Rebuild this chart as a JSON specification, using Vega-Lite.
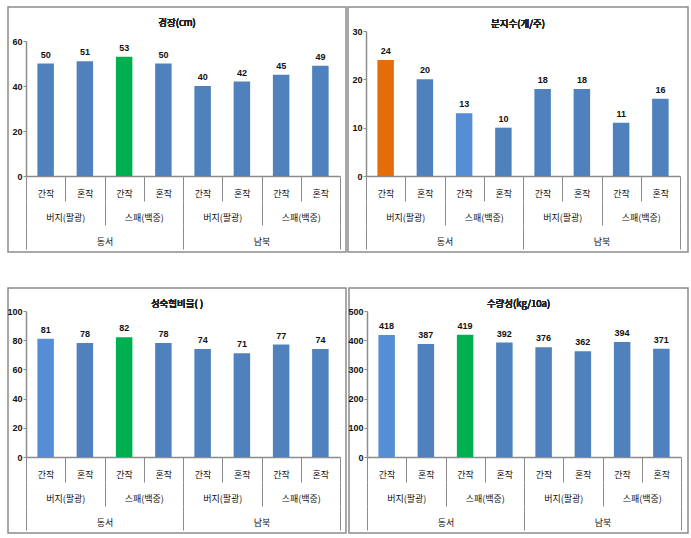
{
  "$schema": "https://vega.github.io/schema/vega-lite/v6.json",
  "padding": {"left": 6, "top": 6, "right": 0, "bottom": 0},
  "spacing": 34,
  "config": {
    "view": {"stroke": "#8c8c8c", "strokeWidth": 1.5},
    "axis": {"domainColor": "#8c8c8c", "tickColor": "#8c8c8c", "labelColor": "#111111", "grid": false, "title": null, "labelOverlap": false, "minExtent": 0},
    "concat": {"spacing": 0}
  },
  "datasets": {
    "main": [
      {"panel": "P1", "t": "경장(cm)", "k": "동서|버지(팔광)|간작", "v": "동서|버지(팔광)", "d": "동서", "value": 50, "hl": "none"},
      {"panel": "P1", "t": "경장(cm)", "k": "동서|버지(팔광)|혼작", "v": "동서|버지(팔광)", "d": "동서", "value": 51, "hl": "none"},
      {"panel": "P1", "t": "경장(cm)", "k": "동서|스패(백중)|간작", "v": "동서|스패(백중)", "d": "동서", "value": 53, "hl": "a"},
      {"panel": "P1", "t": "경장(cm)", "k": "동서|스패(백중)|혼작", "v": "동서|스패(백중)", "d": "동서", "value": 50, "hl": "none"},
      {"panel": "P1", "t": "경장(cm)", "k": "남북|버지(팔광)|간작", "v": "남북|버지(팔광)", "d": "남북", "value": 40, "hl": "none"},
      {"panel": "P1", "t": "경장(cm)", "k": "남북|버지(팔광)|혼작", "v": "남북|버지(팔광)", "d": "남북", "value": 42, "hl": "none"},
      {"panel": "P1", "t": "경장(cm)", "k": "남북|스패(백중)|간작", "v": "남북|스패(백중)", "d": "남북", "value": 45, "hl": "none"},
      {"panel": "P1", "t": "경장(cm)", "k": "남북|스패(백중)|혼작", "v": "남북|스패(백중)", "d": "남북", "value": 49, "hl": "none"},
      {"panel": "P2", "t": "분지수(개/주)", "k": "동서|버지(팔광)|간작", "v": "동서|버지(팔광)", "d": "동서", "value": 24, "hl": "b"},
      {"panel": "P2", "t": "분지수(개/주)", "k": "동서|버지(팔광)|혼작", "v": "동서|버지(팔광)", "d": "동서", "value": 20, "hl": "none"},
      {"panel": "P2", "t": "분지수(개/주)", "k": "동서|스패(백중)|간작", "v": "동서|스패(백중)", "d": "동서", "value": 13, "hl": "c"},
      {"panel": "P2", "t": "분지수(개/주)", "k": "동서|스패(백중)|혼작", "v": "동서|스패(백중)", "d": "동서", "value": 10, "hl": "none"},
      {"panel": "P2", "t": "분지수(개/주)", "k": "남북|버지(팔광)|간작", "v": "남북|버지(팔광)", "d": "남북", "value": 18, "hl": "none"},
      {"panel": "P2", "t": "분지수(개/주)", "k": "남북|버지(팔광)|혼작", "v": "남북|버지(팔광)", "d": "남북", "value": 18, "hl": "none"},
      {"panel": "P2", "t": "분지수(개/주)", "k": "남북|스패(백중)|간작", "v": "남북|스패(백중)", "d": "남북", "value": 11, "hl": "none"},
      {"panel": "P2", "t": "분지수(개/주)", "k": "남북|스패(백중)|혼작", "v": "남북|스패(백중)", "d": "남북", "value": 16, "hl": "none"},
      {"panel": "P3", "t": "성숙협비율(  )", "k": "동서|버지(팔광)|간작", "v": "동서|버지(팔광)", "d": "동서", "value": 81, "hl": "c"},
      {"panel": "P3", "t": "성숙협비율(  )", "k": "동서|버지(팔광)|혼작", "v": "동서|버지(팔광)", "d": "동서", "value": 78, "hl": "none"},
      {"panel": "P3", "t": "성숙협비율(  )", "k": "동서|스패(백중)|간작", "v": "동서|스패(백중)", "d": "동서", "value": 82, "hl": "a"},
      {"panel": "P3", "t": "성숙협비율(  )", "k": "동서|스패(백중)|혼작", "v": "동서|스패(백중)", "d": "동서", "value": 78, "hl": "none"},
      {"panel": "P3", "t": "성숙협비율(  )", "k": "남북|버지(팔광)|간작", "v": "남북|버지(팔광)", "d": "남북", "value": 74, "hl": "none"},
      {"panel": "P3", "t": "성숙협비율(  )", "k": "남북|버지(팔광)|혼작", "v": "남북|버지(팔광)", "d": "남북", "value": 71, "hl": "none"},
      {"panel": "P3", "t": "성숙협비율(  )", "k": "남북|스패(백중)|간작", "v": "남북|스패(백중)", "d": "남북", "value": 77, "hl": "none"},
      {"panel": "P3", "t": "성숙협비율(  )", "k": "남북|스패(백중)|혼작", "v": "남북|스패(백중)", "d": "남북", "value": 74, "hl": "none"},
      {"panel": "P4", "t": "수량성(kg/10a)", "k": "동서|버지(팔광)|간작", "v": "동서|버지(팔광)", "d": "동서", "value": 418, "hl": "c"},
      {"panel": "P4", "t": "수량성(kg/10a)", "k": "동서|버지(팔광)|혼작", "v": "동서|버지(팔광)", "d": "동서", "value": 387, "hl": "none"},
      {"panel": "P4", "t": "수량성(kg/10a)", "k": "동서|스패(백중)|간작", "v": "동서|스패(백중)", "d": "동서", "value": 419, "hl": "a"},
      {"panel": "P4", "t": "수량성(kg/10a)", "k": "동서|스패(백중)|혼작", "v": "동서|스패(백중)", "d": "동서", "value": 392, "hl": "none"},
      {"panel": "P4", "t": "수량성(kg/10a)", "k": "남북|버지(팔광)|간작", "v": "남북|버지(팔광)", "d": "남북", "value": 376, "hl": "none"},
      {"panel": "P4", "t": "수량성(kg/10a)", "k": "남북|버지(팔광)|혼작", "v": "남북|버지(팔광)", "d": "남북", "value": 362, "hl": "none"},
      {"panel": "P4", "t": "수량성(kg/10a)", "k": "남북|스패(백중)|간작", "v": "남북|스패(백중)", "d": "남북", "value": 394, "hl": "none"},
      {"panel": "P4", "t": "수량성(kg/10a)", "k": "남북|스패(백중)|혼작", "v": "남북|스패(백중)", "d": "남북", "value": 371, "hl": "none"}
    ]
  },
  "data": {"name": "main"},
  "vconcat": [
    {"spacing": 0, "hconcat": [
      {
        "width": 338, "height": 245,
        "transform": [{"filter": "datum.panel == 'P1'"}],
        "layer": [
          {"mark": {"type": "bar", "width": {"band": 0.42}},
           "encoding": {
             "x": {"field": "k", "type": "nominal", "sort": null, "scale": {"range": [18, 332], "paddingInner": 0, "paddingOuter": 0},
                   "axis": {"orient": "bottom", "offset": -76, "tickBand": "extent", "tickSize": 25, "domainWidth": 1.5, "labelAngle": 0, "labelBaseline": "middle", "labelPadding": -8, "labelFont": "Noto Sans CJK KR", "labelFontSize": 9, "labelExpr": "split(datum.label, '|')[2]"}},
             "y": {"field": "value", "type": "quantitative", "stack": null, "scale": {"domain": [0, 60], "range": [169, 34], "nice": false},
                   "axis": {"orient": "left", "offset": -18, "values": [0, 20, 40, 60], "tickSize": 3, "labelPadding": 1, "domainWidth": 1.5, "labelFont": "Liberation Sans", "labelFontSize": 9, "labelFontWeight": "bold"}},
             "color": {"field": "hl", "type": "nominal", "scale": {"domain": ["none", "a", "b", "c"], "range": ["#4F81BD", "#00B050", "#E46C0A", "#558ED5"]}, "legend": null}
           }},
          {"mark": {"type": "text", "baseline": "alphabetic", "dy": -6, "font": "Liberation Sans", "fontSize": 9, "fontWeight": "bold", "color": "#111111"},
           "encoding": {
             "x": {"field": "k", "type": "nominal", "sort": null, "scale": {"range": [18, 332], "paddingInner": 0, "paddingOuter": 0}, "axis": null},
             "y": {"field": "value", "type": "quantitative"},
             "text": {"field": "value", "type": "quantitative"}
           }},
          {"mark": {"type": "bar", "opacity": 0},
           "encoding": {
             "x": {"field": "v", "type": "nominal", "sort": null, "scale": {"range": [18, 332], "paddingInner": 0, "paddingOuter": 0},
                   "axis": {"orient": "bottom", "offset": -51, "tickBand": "extent", "tickSize": 24, "domain": false, "labelAngle": 0, "labelBaseline": "middle", "labelPadding": -8, "labelFont": "Noto Sans CJK KR", "labelFontSize": 9, "labelExpr": "split(datum.label, '|')[1]"}},
             "y": {"field": "value", "type": "quantitative", "stack": null}
           }},
          {"mark": {"type": "bar", "opacity": 0},
           "encoding": {
             "x": {"field": "d", "type": "nominal", "sort": null, "scale": {"range": [18, 332], "paddingInner": 0, "paddingOuter": 0},
                   "axis": {"orient": "bottom", "offset": -27, "tickBand": "extent", "tickSize": 24, "domain": false, "labelAngle": 0, "labelBaseline": "middle", "labelPadding": -8, "labelFont": "Noto Sans CJK KR", "labelFontSize": 9}},
             "y": {"field": "value", "type": "quantitative", "stack": null}
           }},
          {"mark": {"type": "text", "baseline": "middle", "font": "Noto Sans CJK KR", "fontSize": 9.5, "color": "#222222"},
           "encoding": {
             "x": {"field": "t", "type": "nominal", "scale": {"range": [0, 338], "paddingInner": 0, "paddingOuter": 0}, "axis": null},
             "y": {"datum": 68, "type": "quantitative"},
             "text": {"field": "t"}
           }}
        ],
        "resolve": {"scale": {"x": "independent"}, "axis": {"x": "independent"}}
      },
      {
        "width": 340, "height": 245,
        "transform": [{"filter": "datum.panel == 'P2'"}],
        "layer": [
          {"mark": {"type": "bar", "width": {"band": 0.42}},
           "encoding": {
             "x": {"field": "k", "type": "nominal", "sort": null, "scale": {"range": [18, 332], "paddingInner": 0, "paddingOuter": 0},
                   "axis": {"orient": "bottom", "offset": -76, "tickBand": "extent", "tickSize": 25, "domainWidth": 1.5, "labelAngle": 0, "labelBaseline": "middle", "labelPadding": -8, "labelFont": "Noto Sans CJK KR", "labelFontSize": 9, "labelExpr": "split(datum.label, '|')[2]"}},
             "y": {"field": "value", "type": "quantitative", "stack": null, "scale": {"domain": [0, 30], "range": [169, 24], "nice": false},
                   "axis": {"orient": "left", "offset": -18, "values": [0, 10, 20, 30], "tickSize": 3, "labelPadding": 1, "domainWidth": 1.5, "labelFont": "Liberation Sans", "labelFontSize": 9, "labelFontWeight": "bold"}},
             "color": {"field": "hl", "type": "nominal", "scale": {"domain": ["none", "a", "b", "c"], "range": ["#4F81BD", "#00B050", "#E46C0A", "#558ED5"]}, "legend": null}
           }},
          {"mark": {"type": "text", "baseline": "alphabetic", "dy": -6, "font": "Liberation Sans", "fontSize": 9, "fontWeight": "bold", "color": "#111111"},
           "encoding": {
             "x": {"field": "k", "type": "nominal", "sort": null, "scale": {"range": [18, 332], "paddingInner": 0, "paddingOuter": 0}, "axis": null},
             "y": {"field": "value", "type": "quantitative"},
             "text": {"field": "value", "type": "quantitative"}
           }},
          {"mark": {"type": "bar", "opacity": 0},
           "encoding": {
             "x": {"field": "v", "type": "nominal", "sort": null, "scale": {"range": [18, 332], "paddingInner": 0, "paddingOuter": 0},
                   "axis": {"orient": "bottom", "offset": -51, "tickBand": "extent", "tickSize": 24, "domain": false, "labelAngle": 0, "labelBaseline": "middle", "labelPadding": -8, "labelFont": "Noto Sans CJK KR", "labelFontSize": 9, "labelExpr": "split(datum.label, '|')[1]"}},
             "y": {"field": "value", "type": "quantitative", "stack": null}
           }},
          {"mark": {"type": "bar", "opacity": 0},
           "encoding": {
             "x": {"field": "d", "type": "nominal", "sort": null, "scale": {"range": [18, 332], "paddingInner": 0, "paddingOuter": 0},
                   "axis": {"orient": "bottom", "offset": -27, "tickBand": "extent", "tickSize": 24, "domain": false, "labelAngle": 0, "labelBaseline": "middle", "labelPadding": -8, "labelFont": "Noto Sans CJK KR", "labelFontSize": 9}},
             "y": {"field": "value", "type": "quantitative", "stack": null}
           }},
          {"mark": {"type": "text", "baseline": "middle", "font": "Noto Sans CJK KR", "fontSize": 9.5, "color": "#222222"},
           "encoding": {
             "x": {"field": "t", "type": "nominal", "scale": {"range": [0, 340], "paddingInner": 0, "paddingOuter": 0}, "axis": null},
             "y": {"datum": 31.4, "type": "quantitative"},
             "text": {"field": "t"}
           }}
        ],
        "resolve": {"scale": {"x": "independent"}, "axis": {"x": "independent"}}
      }
    ]},
    {"spacing": 0, "hconcat": [
      {
        "width": 338, "height": 245,
        "transform": [{"filter": "datum.panel == 'P3'"}],
        "layer": [
          {"mark": {"type": "bar", "width": {"band": 0.42}},
           "encoding": {
             "x": {"field": "k", "type": "nominal", "sort": null, "scale": {"range": [18, 332], "paddingInner": 0, "paddingOuter": 0},
                   "axis": {"orient": "bottom", "offset": -76, "tickBand": "extent", "tickSize": 25, "domainWidth": 1.5, "labelAngle": 0, "labelBaseline": "middle", "labelPadding": -8, "labelFont": "Noto Sans CJK KR", "labelFontSize": 9, "labelExpr": "split(datum.label, '|')[2]"}},
             "y": {"field": "value", "type": "quantitative", "stack": null, "scale": {"domain": [0, 100], "range": [169, 23], "nice": false},
                   "axis": {"orient": "left", "offset": -18, "values": [0, 20, 40, 60, 80, 100], "tickSize": 3, "labelPadding": 1, "domainWidth": 1.5, "labelFont": "Liberation Sans", "labelFontSize": 9, "labelFontWeight": "bold"}},
             "color": {"field": "hl", "type": "nominal", "scale": {"domain": ["none", "a", "b", "c"], "range": ["#4F81BD", "#00B050", "#E46C0A", "#558ED5"]}, "legend": null}
           }},
          {"mark": {"type": "text", "baseline": "alphabetic", "dy": -6, "font": "Liberation Sans", "fontSize": 9, "fontWeight": "bold", "color": "#111111"},
           "encoding": {
             "x": {"field": "k", "type": "nominal", "sort": null, "scale": {"range": [18, 332], "paddingInner": 0, "paddingOuter": 0}, "axis": null},
             "y": {"field": "value", "type": "quantitative"},
             "text": {"field": "value", "type": "quantitative"}
           }},
          {"mark": {"type": "bar", "opacity": 0},
           "encoding": {
             "x": {"field": "v", "type": "nominal", "sort": null, "scale": {"range": [18, 332], "paddingInner": 0, "paddingOuter": 0},
                   "axis": {"orient": "bottom", "offset": -51, "tickBand": "extent", "tickSize": 24, "domain": false, "labelAngle": 0, "labelBaseline": "middle", "labelPadding": -8, "labelFont": "Noto Sans CJK KR", "labelFontSize": 9, "labelExpr": "split(datum.label, '|')[1]"}},
             "y": {"field": "value", "type": "quantitative", "stack": null}
           }},
          {"mark": {"type": "bar", "opacity": 0},
           "encoding": {
             "x": {"field": "d", "type": "nominal", "sort": null, "scale": {"range": [18, 332], "paddingInner": 0, "paddingOuter": 0},
                   "axis": {"orient": "bottom", "offset": -27, "tickBand": "extent", "tickSize": 24, "domain": false, "labelAngle": 0, "labelBaseline": "middle", "labelPadding": -8, "labelFont": "Noto Sans CJK KR", "labelFontSize": 9}},
             "y": {"field": "value", "type": "quantitative", "stack": null}
           }},
          {"mark": {"type": "text", "baseline": "middle", "font": "Noto Sans CJK KR", "fontSize": 9.5, "color": "#222222"},
           "encoding": {
             "x": {"field": "t", "type": "nominal", "scale": {"range": [0, 338], "paddingInner": 0, "paddingOuter": 0}, "axis": null},
             "y": {"datum": 104.8, "type": "quantitative"},
             "text": {"field": "t"}
           }}
        ],
        "resolve": {"scale": {"x": "independent"}, "axis": {"x": "independent"}}
      },
      {
        "width": 339, "height": 245,
        "transform": [{"filter": "datum.panel == 'P4'"}],
        "layer": [
          {"mark": {"type": "bar", "width": {"band": 0.42}},
           "encoding": {
             "x": {"field": "k", "type": "nominal", "sort": null, "scale": {"range": [18, 332], "paddingInner": 0, "paddingOuter": 0},
                   "axis": {"orient": "bottom", "offset": -76, "tickBand": "extent", "tickSize": 25, "domainWidth": 1.5, "labelAngle": 0, "labelBaseline": "middle", "labelPadding": -8, "labelFont": "Noto Sans CJK KR", "labelFontSize": 9, "labelExpr": "split(datum.label, '|')[2]"}},
             "y": {"field": "value", "type": "quantitative", "stack": null, "scale": {"domain": [0, 500], "range": [169, 23], "nice": false},
                   "axis": {"orient": "left", "offset": -18, "values": [0, 100, 200, 300, 400, 500], "tickSize": 3, "labelPadding": 1, "domainWidth": 1.5, "labelFont": "Liberation Sans", "labelFontSize": 9, "labelFontWeight": "bold"}},
             "color": {"field": "hl", "type": "nominal", "scale": {"domain": ["none", "a", "b", "c"], "range": ["#4F81BD", "#00B050", "#E46C0A", "#558ED5"]}, "legend": null}
           }},
          {"mark": {"type": "text", "baseline": "alphabetic", "dy": -6, "font": "Liberation Sans", "fontSize": 9, "fontWeight": "bold", "color": "#111111"},
           "encoding": {
             "x": {"field": "k", "type": "nominal", "sort": null, "scale": {"range": [18, 332], "paddingInner": 0, "paddingOuter": 0}, "axis": null},
             "y": {"field": "value", "type": "quantitative"},
             "text": {"field": "value", "type": "quantitative"}
           }},
          {"mark": {"type": "bar", "opacity": 0},
           "encoding": {
             "x": {"field": "v", "type": "nominal", "sort": null, "scale": {"range": [18, 332], "paddingInner": 0, "paddingOuter": 0},
                   "axis": {"orient": "bottom", "offset": -51, "tickBand": "extent", "tickSize": 24, "domain": false, "labelAngle": 0, "labelBaseline": "middle", "labelPadding": -8, "labelFont": "Noto Sans CJK KR", "labelFontSize": 9, "labelExpr": "split(datum.label, '|')[1]"}},
             "y": {"field": "value", "type": "quantitative", "stack": null}
           }},
          {"mark": {"type": "bar", "opacity": 0},
           "encoding": {
             "x": {"field": "d", "type": "nominal", "sort": null, "scale": {"range": [18, 332], "paddingInner": 0, "paddingOuter": 0},
                   "axis": {"orient": "bottom", "offset": -27, "tickBand": "extent", "tickSize": 24, "domain": false, "labelAngle": 0, "labelBaseline": "middle", "labelPadding": -8, "labelFont": "Noto Sans CJK KR", "labelFontSize": 9}},
             "y": {"field": "value", "type": "quantitative", "stack": null}
           }},
          {"mark": {"type": "text", "baseline": "middle", "font": "Noto Sans CJK KR", "fontSize": 9.5, "color": "#222222"},
           "encoding": {
             "x": {"field": "t", "type": "nominal", "scale": {"range": [0, 339], "paddingInner": 0, "paddingOuter": 0}, "axis": null},
             "y": {"datum": 524, "type": "quantitative"},
             "text": {"field": "t"}
           }}
        ],
        "resolve": {"scale": {"x": "independent"}, "axis": {"x": "independent"}}
      }
    ]}
  ]
}
